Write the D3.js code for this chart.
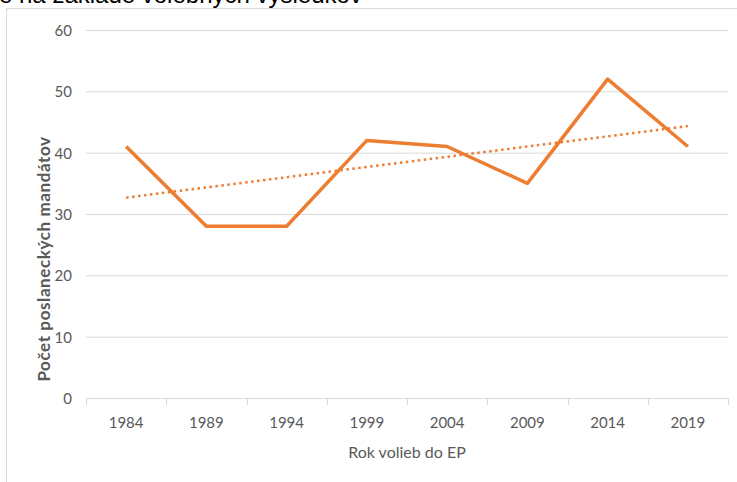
<!DOCTYPE html>
<html>
<head>
<meta charset="utf-8">
<script src="https://cdn.jsdelivr.net/npm/d3@7"></script>
<style>
  body { margin: 0; background: #fff; }
  svg { display: block; }
  .axis text { font-family: Lato, "Open Sans", sans-serif; font-size: 15px; fill: #595959; }
</style>
</head>
<body>
<svg id="chart" width="737" height="482"></svg>
<script>
// Data
var years = ['1984', '1989', '1994', '1999', '2004', '2009', '2014', '2019'];
var seats = [41, 28, 28, 42, 41, 35, 52, 41];
var yTicks = [0, 10, 20, 30, 40, 50, 60];

var svg = d3.select('#chart');
var W = 737, H = 482;
var margin = { left: 86, right: 9, top: 30, bottom: 84 };
var FONT = 'Lato, "Open Sans", sans-serif';

// Outer chart frame
svg.append('rect')
    .attr('x', 6.5).attr('y', 8.5)
    .attr('width', W + 20).attr('height', H + 20)
    .attr('fill', '#fff')
    .attr('stroke', '#d9d9d9');

// Cropped caption above the frame
svg.append('text')
    .attr('x', -1)
    .attr('y', 3)
    .style('font-family', '"Liberation Sans", Arial, sans-serif')
    .style('font-size', '24px')
    .style('fill', '#000')
    .text('e na základe volebných výsledkov');

// Scales
var x = d3.scaleBand()
    .domain(years)
    .range([margin.left, W - margin.right]);
var y = d3.scaleLinear()
    .domain([0, 60])
    .range([H - margin.bottom, margin.top]);

// Gridlines
svg.append('g')
    .selectAll('line')
    .data(yTicks.filter(function (d) { return d > 0; }))
    .enter().append('line')
    .attr('x1', x.range()[0]).attr('x2', x.range()[1])
    .attr('y1', function (d) { return y(d) + 0.5; })
    .attr('y2', function (d) { return y(d) + 0.5; })
    .attr('stroke', '#d9d9d9');

// y axis (labels only)
var yAxis = d3.axisLeft(y).tickValues(yTicks).tickSize(0).tickPadding(14);
svg.append('g')
    .attr('class', 'axis')
    .attr('transform', 'translate(' + margin.left + ',0)')
    .call(yAxis)
    .call(function (g) { g.select('.domain').remove(); g.selectAll('text').attr('dy', '0.36em'); });

// x axis baseline with ticks at band boundaries
var xg = svg.append('g').attr('class', 'axis');
xg.append('line')
    .attr('x1', x.range()[0]).attr('x2', x.range()[1])
    .attr('y1', y(0) + 0.5).attr('y2', y(0) + 0.5)
    .attr('stroke', '#d9d9d9');
var bounds = years.map(function (d) { return x(d); }).concat([x.range()[1]]);
xg.selectAll('line.tick')
    .data(bounds)
    .enter().append('line')
    .attr('class', 'tick')
    .attr('x1', function (d) { return Math.round(d) + 0.5; })
    .attr('x2', function (d) { return Math.round(d) + 0.5; })
    .attr('y1', y(0)).attr('y2', y(0) + 7)
    .attr('stroke', '#d9d9d9');
xg.selectAll('text')
    .data(years)
    .enter().append('text')
    .attr('x', function (d) { return x(d) + x.bandwidth() / 2; })
    .attr('y', y(0) + 30)
    .attr('text-anchor', 'middle')
    .text(function (d) { return d; });

// Axis titles
svg.append('text')
    .attr('x', (x.range()[0] + x.range()[1]) / 2)
    .attr('y', 458)
    .attr('text-anchor', 'middle')
    .style('font-family', FONT)
    .style('font-size', '16px')
    .style('fill', '#595959')
    .text('Rok volieb do EP');

svg.append('text')
    .attr('transform', 'translate(50,' + 259 + ') rotate(-90)')
    .attr('text-anchor', 'middle')
    .style('font-family', FONT)
    .style('font-size', '17px')
    .style('font-weight', 'bold')
    .style('letter-spacing', '0.6px')
    .style('fill', '#595959')
    .text('Počet poslaneckých mandátov');

// Linear trendline (least squares over point index)
var n = seats.length;
var mx = d3.mean(d3.range(n)), my = d3.mean(seats);
var sxy = d3.sum(seats, function (v, i) { return (i - mx) * (v - my); });
var sxx = d3.sum(d3.range(n), function (i) { return (i - mx) * (i - mx); });
var slope = sxy / sxx, icpt = my - slope * mx;
var trend = [0, n - 1].map(function (i) { return { year: years[i], v: icpt + slope * i }; });

var cx = function (d) { return x(d.year) + x.bandwidth() / 2; };

svg.append('path')
    .datum(trend)
    .attr('fill', 'none')
    .attr('stroke', '#ED7D31')
    .attr('stroke-width', 2.5)
    .attr('stroke-dasharray', '2.5,3.5')
    .attr('d', d3.line().x(cx).y(function (d) { return y(d.v); }));

// Data line
var pts = years.map(function (yr, i) { return { year: yr, v: seats[i] }; });
svg.append('path')
    .datum(pts)
    .attr('fill', 'none')
    .attr('stroke', '#ED7D31')
    .attr('stroke-width', 3.5)
    .attr('stroke-linejoin', 'round')
    .attr('d', d3.line().x(cx).y(function (d) { return y(d.v); }));
</script>
</body>
</html>
